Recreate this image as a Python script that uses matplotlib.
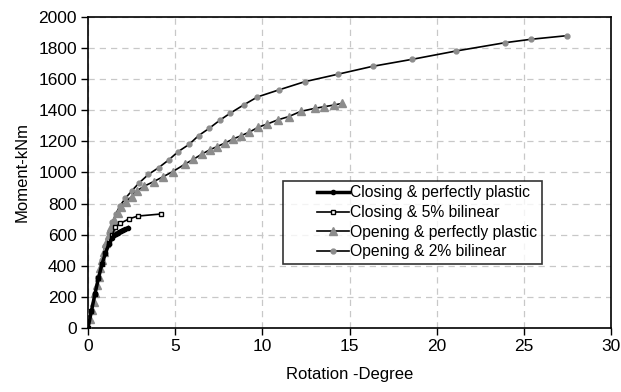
import numpy as np
import matplotlib.pyplot as plt

plt.rcParams['font.family'] = ['Liberation Sans', 'DejaVu Sans']

# Closing & perfectly plastic
cpp_x = [0, 0.2, 0.4, 0.6, 0.8, 1.0, 1.2, 1.4, 1.5, 1.6, 1.7, 1.8, 1.9, 2.0, 2.15, 2.3]
cpp_y = [0, 110, 220, 320, 410, 480, 540, 580, 595, 605, 612, 618, 624, 630, 637, 645]

# Closing & 5% bilinear
cbl_x = [0, 0.2, 0.4, 0.6, 0.8, 1.0, 1.2, 1.4, 1.56, 1.85, 2.38, 2.87, 4.18]
cbl_y = [0, 110, 220, 320, 410, 480, 545, 600, 648, 673, 703, 720, 733]

# Opening & perfectly plastic
opp_x = [0, 0.12, 0.23, 0.33, 0.42, 0.52, 0.61, 0.7, 0.8, 0.91, 1.03, 1.18, 1.34, 1.47,
         1.7, 1.91, 2.18, 2.5, 2.81, 3.24, 3.76, 4.31, 4.85, 5.58, 6.05, 6.51, 6.97,
         7.39, 7.83, 8.31, 8.79, 9.26, 9.76, 10.29, 10.87, 11.5, 12.2, 13.03, 13.54,
         14.11, 14.59]
opp_y = [0, 60, 116, 170, 223, 276, 330, 385, 437, 490, 545, 600, 651, 695,
         738, 776, 812, 844, 883, 913, 941, 973, 1005, 1055, 1085, 1117, 1145,
         1166, 1188, 1215, 1237, 1260, 1291, 1312, 1338, 1359, 1393, 1413, 1423,
         1434, 1445]

# Opening & 2% bilinear
obl_x = [0, 0.2, 0.4, 0.6, 0.8, 1.0, 1.2, 1.4, 1.6, 1.83, 2.14, 2.52, 2.94, 3.47,
         4.05, 4.62, 5.17, 5.8, 6.34, 6.95, 7.56, 8.15, 8.92, 9.72, 10.94, 12.43,
         14.33, 16.33, 18.6, 21.09, 23.93, 25.42, 27.47]
obl_y = [0, 110, 220, 330, 435, 530, 610, 680, 735, 785, 834, 883, 934, 988,
         1031, 1080, 1134, 1181, 1237, 1284, 1336, 1381, 1434, 1486, 1531, 1584,
         1632, 1683, 1728, 1781, 1835, 1857, 1880]

fig = plt.figure(figsize=(6.21, 3.92), dpi=100)
ax = fig.add_axes([0.1417, 0.1633, 0.8423, 0.7933])

ax.plot(obl_x, obl_y, color='black', lw=1.2, marker='o', ms=3.5,
        mfc='#8c8c8c', mec='#8c8c8c', label='Opening & 2% bilinear', zorder=3)
ax.plot(opp_x, opp_y, color='black', lw=1.2, marker='^', ms=5.2,
        mfc='#8c8c8c', mec='#8c8c8c', label='Opening & perfectly plastic', zorder=3)
ax.plot(cbl_x, cbl_y, color='black', lw=1.2, marker='s', ms=3.3,
        mfc='white', mec='black', mew=1, label='Closing & 5% bilinear', zorder=4)
ax.plot(cpp_x, cpp_y, color='black', lw=2.5, marker='o', ms=3,
        mfc='black', mec='black', label='Closing & perfectly plastic', zorder=5)

ax.set_xlim(0, 30)
ax.set_ylim(0, 2000)
ax.set_xticks(range(0, 31, 5))
ax.set_yticks(range(0, 2001, 200))
ax.grid(True, color='#c8c8c8', linestyle=(0, (5, 4)), lw=0.9)
ax.tick_params(direction='out', length=5, width=1, labelsize=12.5, colors='black', pad=3)
for s in ax.spines.values():
    s.set_linewidth(1.2)
    s.set_color('black')

ax.set_xlabel('Rotation -Degree', fontsize=12, labelpad=9)
ax.set_ylabel('Moment-kNm', fontsize=12, labelpad=6)

h, l = ax.get_legend_handles_labels()
leg = ax.legend(h[::-1], l[::-1], loc='upper left', bbox_to_anchor=(0.373, 0.474),
                fontsize=11.3, frameon=True, fancybox=False, edgecolor='black',
                handlelength=3.9, handletextpad=0.05, borderpad=0.3, labelspacing=0.3,
                borderaxespad=0)
leg.get_frame().set_linewidth(1.2)
# handle lines only occupy the right half of the handle area
for ln in leg.get_lines():
    xd = np.asarray(ln.get_xdata(), dtype=float)
    ln.set_xdata(np.linspace(xd[-1] * 0.48, xd[-1], len(xd)))

fig.savefig('out.png', dpi=100)
